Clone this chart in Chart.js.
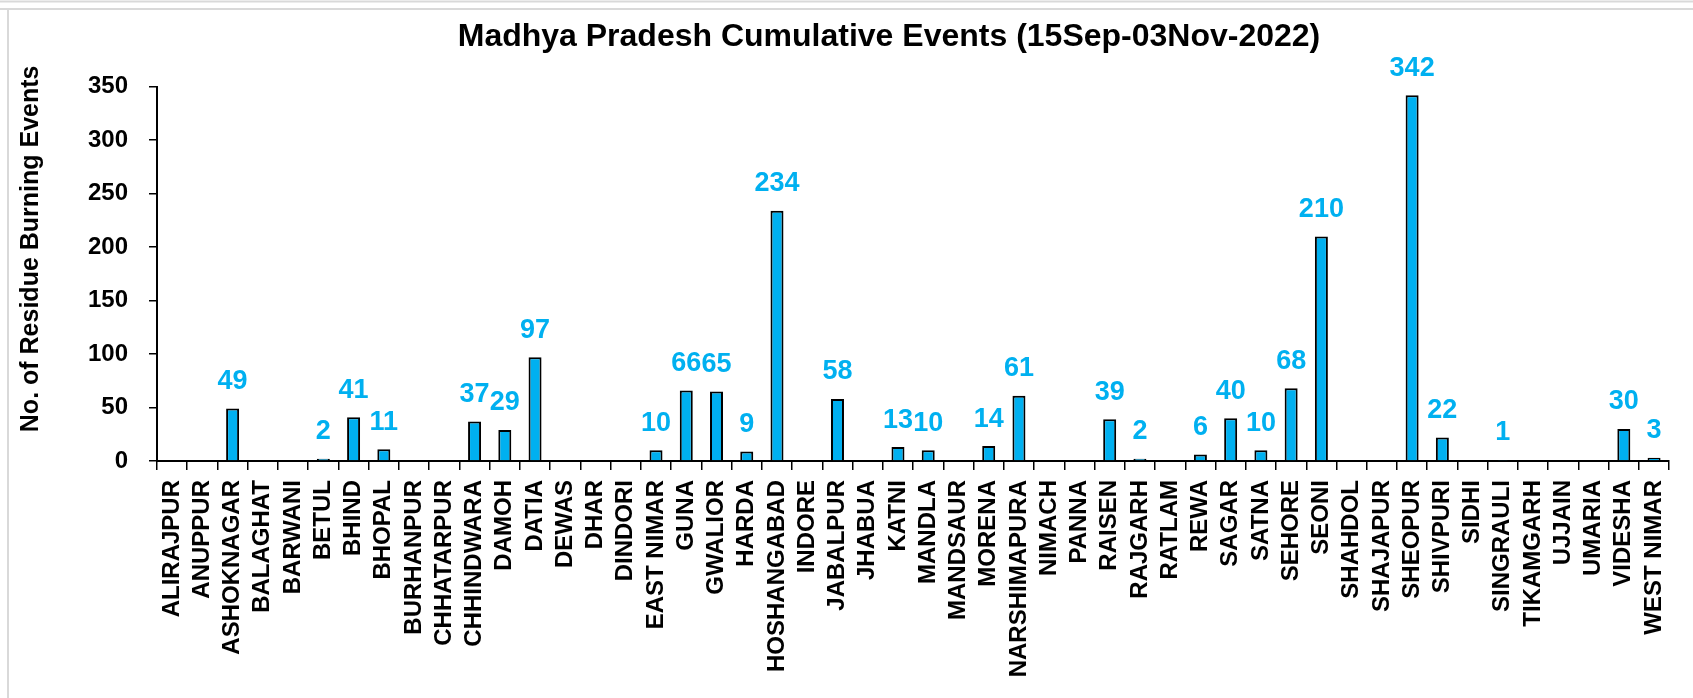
<!DOCTYPE html>
<html>
<head>
<meta charset="utf-8">
<script src="https://cdn.jsdelivr.net/npm/chart.js@4.4.0/dist/chart.umd.min.js"></script>
<style>
  html, body { margin: 0; padding: 0; background: #ffffff; }
  #wrap { width: 1693px; height: 698px; }
</style>
</head>
<body>
<div id="wrap"><canvas id="c" width="1693" height="698"></canvas></div>
<script>
const chartTitle = "Madhya Pradesh Cumulative Events (15Sep-03Nov-2022)";
const yAxisTitle = "No. of Residue Burning Events";
const districts = ["ALIRAJPUR","ANUPPUR","ASHOKNAGAR","BALAGHAT","BARWANI","BETUL","BHIND","BHOPAL","BURHANPUR","CHHATARPUR","CHHINDWARA","DAMOH","DATIA","DEWAS","DHAR","DINDORI","EAST NIMAR","GUNA","GWALIOR","HARDA","HOSHANGABAD","INDORE","JABALPUR","JHABUA","KATNI","MANDLA","MANDSAUR","MORENA","NARSHIMAPURA","NIMACH","PANNA","RAISEN","RAJGARH","RATLAM","REWA","SAGAR","SATNA","SEHORE","SEONI","SHAHDOL","SHAJAPUR","SHEOPUR","SHIVPURI","SIDHI","SINGRAULI","TIKAMGARH","UJJAIN","UMARIA","VIDESHA","WEST NIMAR"];
const events = [0,0,49,0,0,2,41,11,0,0,37,29,97,0,0,0,10,66,65,9,234,0,58,0,13,10,0,14,61,0,0,39,2,0,6,40,10,68,210,0,0,342,22,0,1,0,0,0,30,3];
const yTicksMin = 0;
const yTicksMax = 350;
const yTicksStep = 50;

const FONT = "'Liberation Sans', Arial, sans-serif";

const framePlugin = {
  id: 'frame',
  beforeDraw(chart) {
    const ctx = chart.ctx;
    ctx.save();
    ctx.fillStyle = '#ffffff';
    ctx.fillRect(0, 0, chart.width, chart.height);
    ctx.strokeStyle = '#d9d9d9';
    ctx.lineWidth = 2;
    ctx.beginPath();
    ctx.moveTo(0, 1.5); ctx.lineTo(chart.width, 1.5);
    ctx.moveTo(0, 9); ctx.lineTo(chart.width, 9);
    ctx.moveTo(8, 9); ctx.lineTo(8, chart.height);
    ctx.stroke();
    ctx.restore();
  }
};

const positionPlugin = {
  id: 'positions',
  afterLayout(chart) {
    const tb = chart.titleBlock;
    if (tb) {
      const center = 889;
      const half = Math.min(center - 0, chart.width - center);
      tb.left = center - half;
      tb.right = center + half;
      tb.width = tb.right - tb.left;
    }
    const ys = chart.scales.y;
    if (ys && !ys._titlePatched) {
      const orig = ys.drawTitle;
      ys.drawTitle = function() {
        const t = this.top;
        this.top = t - 50;
        orig.call(this);
        this.top = t;
      };
      ys._titlePatched = true;
    }
  }
};

const valueLabelPlugin = {
  id: 'valueLabels',
  afterDatasetsDraw(chart) {
    const ctx = chart.ctx;
    const meta = chart.getDatasetMeta(0);
    const data = chart.data.datasets[0].data;
    ctx.save();
    ctx.font = "bold 27px " + FONT;
    ctx.fillStyle = '#00B0F0';
    ctx.textAlign = 'center';
    ctx.textBaseline = 'alphabetic';
    meta.data.forEach((bar, i) => {
      const v = data[i];
      if (v > 0) {
        ctx.fillText(String(v), bar.x, bar.y - 19.5);
      }
    });
    ctx.restore();
  }
};

new Chart(document.getElementById('c'), {
  type: 'bar',
  data: {
    labels: districts,
    datasets: [{
      data: events,
      backgroundColor: '#00B0F0',
      borderColor: '#000000',
      borderWidth: 2,
      barPercentage: 0.43,
      categoryPercentage: 1.0
    }]
  },
  options: {
    responsive: false,
    animation: false,
    devicePixelRatio: 1,
    layout: { padding: { left: 0, right: 13, top: 0, bottom: 0 } },
    plugins: {
      legend: { display: false },
      tooltip: { enabled: false },
      title: {
        display: true,
        text: chartTitle,
        color: '#000000',
        font: { family: FONT, size: 32, weight: 'bold', lineHeight: 1.2 },
        padding: { top: 17.8, bottom: 30.5 }
      }
    },
    scales: {
      x: {
        grid: { display: true, drawOnChartArea: false, drawTicks: true, tickLength: 9, color: '#000000', lineWidth: 1.5, offset: true },
        border: { display: true, color: '#000000', width: 2 },
        ticks: {
          autoSkip: false,
          maxRotation: 90,
          minRotation: 90,
          padding: 10,
          color: '#000000',
          font: { family: FONT, size: 24, weight: 'bold' }
        },
        afterFit(scale) { scale.height = 698 - 461; }
      },
      y: {
        min: yTicksMin,
        max: yTicksMax,
        grid: { display: true, drawOnChartArea: false, drawTicks: true, tickLength: 8, color: '#000000', lineWidth: 1.5 },
        border: { display: true, color: '#000000', width: 2 },
        ticks: {
          stepSize: yTicksStep,
          padding: 21,
          color: '#000000',
          font: { family: FONT, size: 24, weight: 'bold' }
        },
        title: {
          display: true,
          text: yAxisTitle,
          color: '#000000',
          font: { family: FONT, size: 25, weight: 'bold', lineHeight: 1.2 },
          padding: { top: 16, bottom: 0 }
        },
        afterFit(scale) { scale.width = 157; }
      }
    }
  },
  plugins: [framePlugin, positionPlugin, valueLabelPlugin]
});
</script>
</body>
</html>
